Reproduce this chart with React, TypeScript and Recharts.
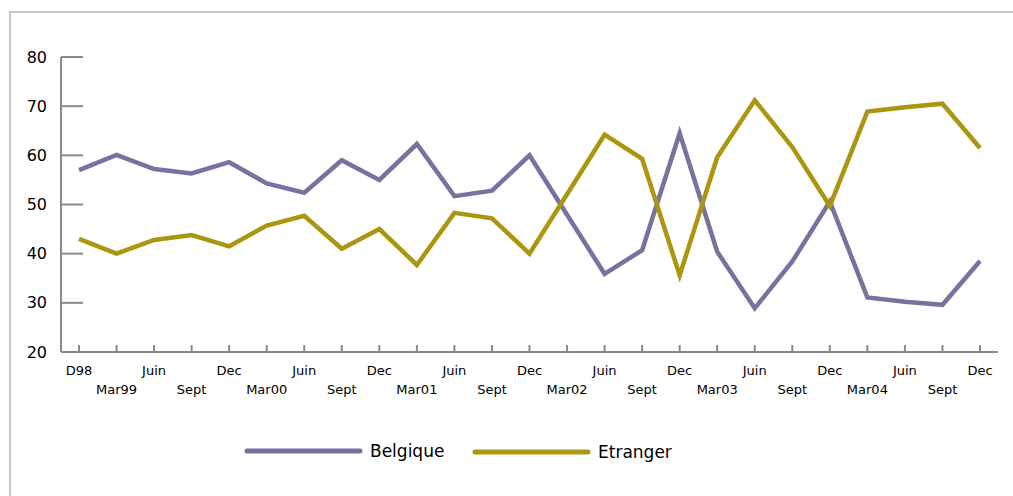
import React from 'react';
import { LineChart, Line, XAxis, YAxis, Legend } from 'recharts';

const categories = ['D98', 'Mar99', 'Juin', 'Sept', 'Dec', 'Mar00', 'Juin', 'Sept', 'Dec', 'Mar01', 'Juin', 'Sept', 'Dec', 'Mar02', 'Juin', 'Sept', 'Dec', 'Mar03', 'Juin', 'Sept', 'Dec', 'Mar04', 'Juin', 'Sept', 'Dec'];
const belgique = [57.0, 60.1, 57.2, 56.3, 58.6, 54.3, 52.4, 59.0, 55.0, 62.3, 51.7, 52.8, 60.0, 47.9, 35.9, 40.7, 64.5, 40.4, 28.9, 38.4, 50.6, 31.1, 30.2, 29.6, 38.5];
const etranger = [43.0, 40.0, 42.8, 43.8, 41.5, 45.7, 47.7, 41.0, 45.0, 37.7, 48.3, 47.2, 40.0, 52.1, 64.2, 59.3, 35.6, 59.6, 71.2, 61.7, 49.7, 68.9, 69.8, 70.5, 61.5];
const yTicks = [20, 30, 40, 50, 60, 70, 80];

const data = categories.map((c, i) => ({ idx: i, cat: c, Belgique: belgique[i], Etranger: etranger[i] }));

const COL_B = '#7673a0';
const COL_E = '#ab970f';
const AXIS = '#8a8a8a';
const FONT = '"DejaVu Sans", Verdana, sans-serif';

const XTick = (props: any) => {
  const { x, y, payload, index } = props;
  const label = categories[payload.value] ?? '';
  const row = index % 2;
  return (
    <g>
      <line x1={x} x2={x} y1={y} y2={y - 7} stroke={AXIS} strokeWidth={2} />
      <text x={x} y={row === 0 ? y + 18 : y + 37} textAnchor="middle" dominantBaseline="central" fontSize={13} fontFamily={FONT} fill="#000">
        {label}
      </text>
    </g>
  );
};

const YTick = (props: any) => {
  const { x, y, payload } = props;
  return (
    <g>
      <line x1={x} x2={x + 22} y1={y} y2={y} stroke={AXIS} strokeWidth={2} />
      <text x={x - 14} y={y} textAnchor="end" dominantBaseline="central" fontSize={16} fontFamily={FONT} fill="#000">
        {payload.value}
      </text>
    </g>
  );
};

const LegendContent = () => (
  <svg width={1005} height={60} style={{ display: 'block' }}>
    <line x1={239} x2={352} y1={23} y2={23} stroke={COL_B} strokeWidth={5} strokeLinecap="round" />
    <text x={362} y={23} dominantBaseline="central" fontSize={17} fontFamily={FONT} fill="#000">Belgique</text>
    <line x1={467} x2={580} y1={24} y2={24} stroke={COL_E} strokeWidth={5} strokeLinecap="round" />
    <text x={590} y={24} dominantBaseline="central" fontSize={17} fontFamily={FONT} fill="#000">Etranger</text>
  </svg>
);

export default function App() {
  return (
    <div style={{ position: 'relative', width: 1013, height: 496, overflow: 'hidden' }}>
      <style>{`body{margin:0;}`}</style>
      <div style={{ position: 'absolute', left: 9, top: 11, width: 1010, height: 490, borderTop: '2px solid #c6c6c6', borderLeft: '2px solid #c6c6c6', boxSizing: 'border-box' }} />
      <div style={{ position: 'absolute', left: 8, top: 8 }}>
        <LineChart width={1005} height={480} data={data} margin={{ top: 49, right: 15, left: 0, bottom: 0 }}>
          <XAxis
            dataKey="idx"
            type="category"
            interval={0}
            height={76}
            padding={{ left: 18, right: 18 }}
            axisLine={{ stroke: AXIS, strokeWidth: 2 }}
            tickLine={false}
            tickSize={0}
            tickMargin={0}
            tick={<XTick />}
          />
          <YAxis
            domain={[20, 80]}
            ticks={yTicks}
            width={53}
            interval={0}
            axisLine={{ stroke: AXIS, strokeWidth: 2 }}
            tickLine={false}
            tickSize={0}
            tickMargin={0}
            tick={<YTick />}
          />
          <Legend verticalAlign="bottom" height={60} content={<LegendContent />} wrapperStyle={{ left: 0, width: 1005 }} />
          <Line dataKey="Belgique" stroke={COL_B} strokeWidth={4.5} dot={false} isAnimationActive={false} />
          <Line dataKey="Etranger" stroke={COL_E} strokeWidth={4.5} dot={false} isAnimationActive={false} />
        </LineChart>
      </div>
    </div>
  );
}
